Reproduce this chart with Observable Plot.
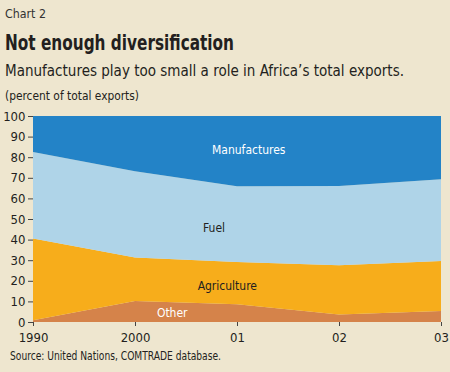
<!DOCTYPE html>
<html><head><meta charset="utf-8">
<script src="https://cdn.jsdelivr.net/npm/d3@7"></script>
<script src="https://cdn.jsdelivr.net/npm/@observablehq/plot@0.6"></script>
<style>
html,body{margin:0;padding:0;background:#eee6cf;}
#wrap{position:relative;width:450px;height:372px;background:#eee6cf;overflow:hidden;font-family:"DejaVu Sans Condensed","DejaVu Sans",sans-serif;font-stretch:condensed;color:#231f20;}
.t{position:absolute;left:5px;white-space:nowrap;transform-origin:0 0;}
#chartno{top:6px;font-size:13px;color:#333;}
#title{top:30px;font-size:22px;font-weight:bold;}
#sub{top:61px;font-size:16px;}
#unit{top:89px;font-size:12px;}
#src{top:349px;left:10px;font-size:12px;}
#plot{position:absolute;left:0;top:100px;}
svg text{font-stretch:condensed;}
</style></head>
<body><div id="wrap">
<div class="t" id="chartno" data-w="41">Chart 2</div>
<div class="t" id="title" data-w="229">Not enough diversification</div>
<div class="t" id="sub" data-w="399">Manufactures play too small a role in Africa’s total exports.</div>
<div class="t" id="unit" data-w="134">(percent of total exports)</div>
<div id="plot"></div>
<div class="t" id="src" data-w="211">Source: United Nations, COMTRADE database.</div>
</div>
<script>
const years = ["1990", "2000", "01", "02", "03"];
const series = ["Other", "Agriculture", "Fuel", "Manufactures"];
const other = [0.8, 10.2, 8.6, 3.6, 5.3];
const agriculture = [39.7, 21.1, 20.5, 23.9, 24.3];
const fuel = [42.0, 41.9, 36.8, 38.5, 39.7];
const manufactures = [17.5, 26.8, 34.1, 34.0, 30.7];
const colors = ["#d5834a", "#f7ad1b", "#afd4e8", "#2383c7"];
const labelX = [1.36, 1.90, 1.77, 2.11];
const labelY = [4.4, 17.8, 45.8, 83.7];
const labelColor = ["#ffffff", "#231f20", "#231f20", "#ffffff"];
const labelWeight = ["bold", "normal", "normal", "normal"];
const yTicks = [0, 10, 20, 30, 40, 50, 60, 70, 80, 90, 100];

const values = [other, agriculture, fuel, manufactures];
const data = [];
series.forEach((s, si) => years.forEach((yr, i) => data.push({i, s, si, v: values[si][i]})));
const labels = series.map((s, k) => ({s, x: labelX[k], y: labelY[k], c: labelColor[k], w: labelWeight[k]}));

const plot = Plot.plot({
  width: 450, height: 250,
  marginLeft: 33, marginRight: 9, marginTop: 16, marginBottom: 28,
  style: {background: "transparent", fontFamily: "'DejaVu Sans Condensed','DejaVu Sans',sans-serif", fontSize: "13px", color: "#231f20"},
  x: {type: "linear", domain: [0, 4], label: null},
  y: {domain: [0, 100], label: null},
  color: {domain: series, range: colors},
  marks: [
    Plot.areaY(data, {x: "i", y: "v", fill: "s", order: series, z: "s"}),
    Plot.axisY({ticks: yTicks, tickSize: 5, tickPadding: 3, fontSize: 13, stroke: "#444", label: null}),
    Plot.axisX({ticks: [0,1,2,3,4], tickFormat: d => years[d], tickSize: 4, tickPadding: 6, fontSize: 13, stroke: "#444", label: null}),
    Plot.text(labels, {x: "x", y: "y", text: "s", fill: d => d.c, fontWeight: d => d.w, fontSize: 12})
  ]
});
document.getElementById("plot").appendChild(plot);

document.querySelectorAll(".t[data-w]").forEach(el => {
  const w = el.getBoundingClientRect().width;
  const target = +el.dataset.w;
  if (w > 0) el.style.transform = `scaleX(${target / w})`;
});
</script>
</body></html>
